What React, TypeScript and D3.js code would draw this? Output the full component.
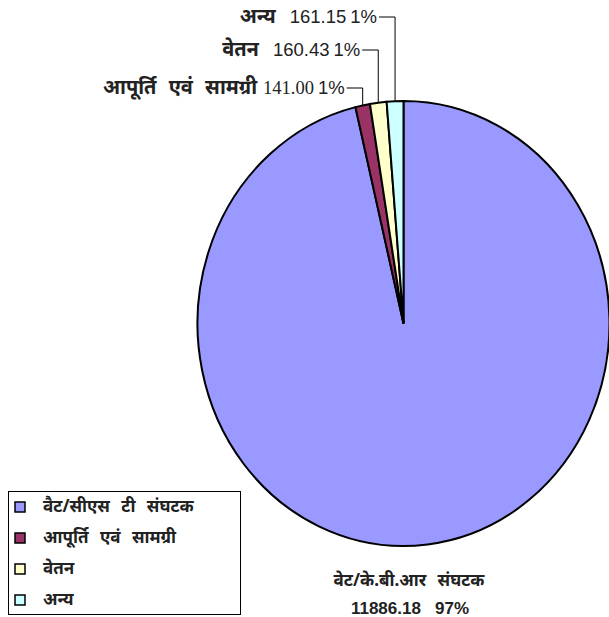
import React from "react";
import * as d3 from "d3";

const categories = ["वैट/सीएस टी संघटक", "आपूर्ति एवं सामग्री", "वेतन", "अन्य"];
const values = [11886.18, 141.0, 160.43, 161.15];
const valueLabels = ["11886.18", "141.00", "160.43", "161.15"];
const percentLabels = ["97%", "1%", "1%", "1%"];
const colors = ["#9999FF", "#993366", "#FFFFCC", "#CCFFFF"];
const bigLabel = "वेट/के.बी.आर संघटक";

const W = 609;
const H = 617;
const cx = 403.5;
const cy = 323.5;
const rx = 206;
const ry = 222.5;
const R = 200;

const hindiFont = "'Noto Sans', 'DejaVu Sans', sans-serif";
const numFont = "'Liberation Sans', Arial, sans-serif";
const serifFont = "'Liberation Serif', 'Times New Roman', serif";

export default function App() {
  const data = categories.map((c, i) => ({ c, v: values[i], i }));
  const pie = d3.pie<any>().value((d) => d.v).sort(null);
  const arcs = pie(data);
  const arc = d3.arc<any>().innerRadius(0).outerRadius(R);

  const edge = (a: number) => ({
    x: cx + rx * Math.sin(a),
    y: cy - ry * Math.cos(a),
  });

  const small = [
    { i: 3, y: 17, serifNum: false },
    { i: 2, y: 50, serifNum: false },
    { i: 1, y: 88, serifNum: true },
  ];

  return (
    <svg width={W} height={H} style={{ position: "absolute", left: 0, top: 0 }}>
      <rect x={0} y={0} width={W} height={H} fill="#fff" />
      <g transform={`translate(${cx},${cy}) scale(${rx / R},${ry / R})`}>
        {arcs.map((a, k) => (
          <path
            key={k}
            d={arc(a) as string}
            fill={colors[k]}
            stroke="#000"
            strokeWidth={2}
            vectorEffect="non-scaling-stroke"
          />
        ))}
      </g>
      {small.map(({ i, y, serifNum }) => {
        const a = arcs[i];
        const mid = (a.startAngle + a.endAngle) / 2;
        const p = edge(mid);
        const lineStartX = p.x - 16;
        const textEnd = lineStartX - 2;
        return (
          <g key={i}>
            <polyline
              points={`${lineStartX},${y} ${p.x},${y} ${p.x},${p.y}`}
              fill="none"
              stroke="#000"
              strokeWidth={1}
            />
            <text x={textEnd} y={y + 6} textAnchor="end" fill="#222">
              <tspan fontFamily={hindiFont} fontWeight="bold" fontSize={20} wordSpacing={7}>
                {categories[i]}
              </tspan>
              <tspan
                fontFamily={serifNum ? serifFont : numFont}
                fontSize={18.5}
                dx={serifNum ? 6 : 14}
              >
                {valueLabels[i]}
              </tspan>
              <tspan fontFamily={numFont} fontSize={18.5} dx={4}>
                {percentLabels[i]}
              </tspan>
            </text>
          </g>
        );
      })}
      <text
        x={409}
        y={586}
        textAnchor="middle"
        fontFamily={hindiFont}
        fontWeight="bold"
        fontSize={17}
        wordSpacing={7}
        fill="#222"
      >
        {bigLabel}
      </text>
      <text
        x={410}
        y={614}
        textAnchor="middle"
        fontFamily={numFont}
        fontWeight="bold"
        fontSize={17}
        fill="#222"
        style={{ whiteSpace: "pre" }}
      >
        {`${valueLabels[0]}   ${percentLabels[0]}`}
      </text>
      <g>
        <rect x={8.5} y={491.5} width={232} height={123} fill="#fff" stroke="#000" strokeWidth={1} />
        {categories.map((c, i) => (
          <g key={i} transform={`translate(0,${507 + i * 31})`}>
            <rect x={15} y={-5} width={10} height={10} fill={colors[i]} stroke="#000" strokeWidth={1.5} />
            <text
              x={43}
              y={5}
              fontFamily={hindiFont}
              fontWeight="bold"
              fontSize={17}
              wordSpacing={7}
              fill="#222"
            >
              {c}
            </text>
          </g>
        ))}
      </g>
    </svg>
  );
}
